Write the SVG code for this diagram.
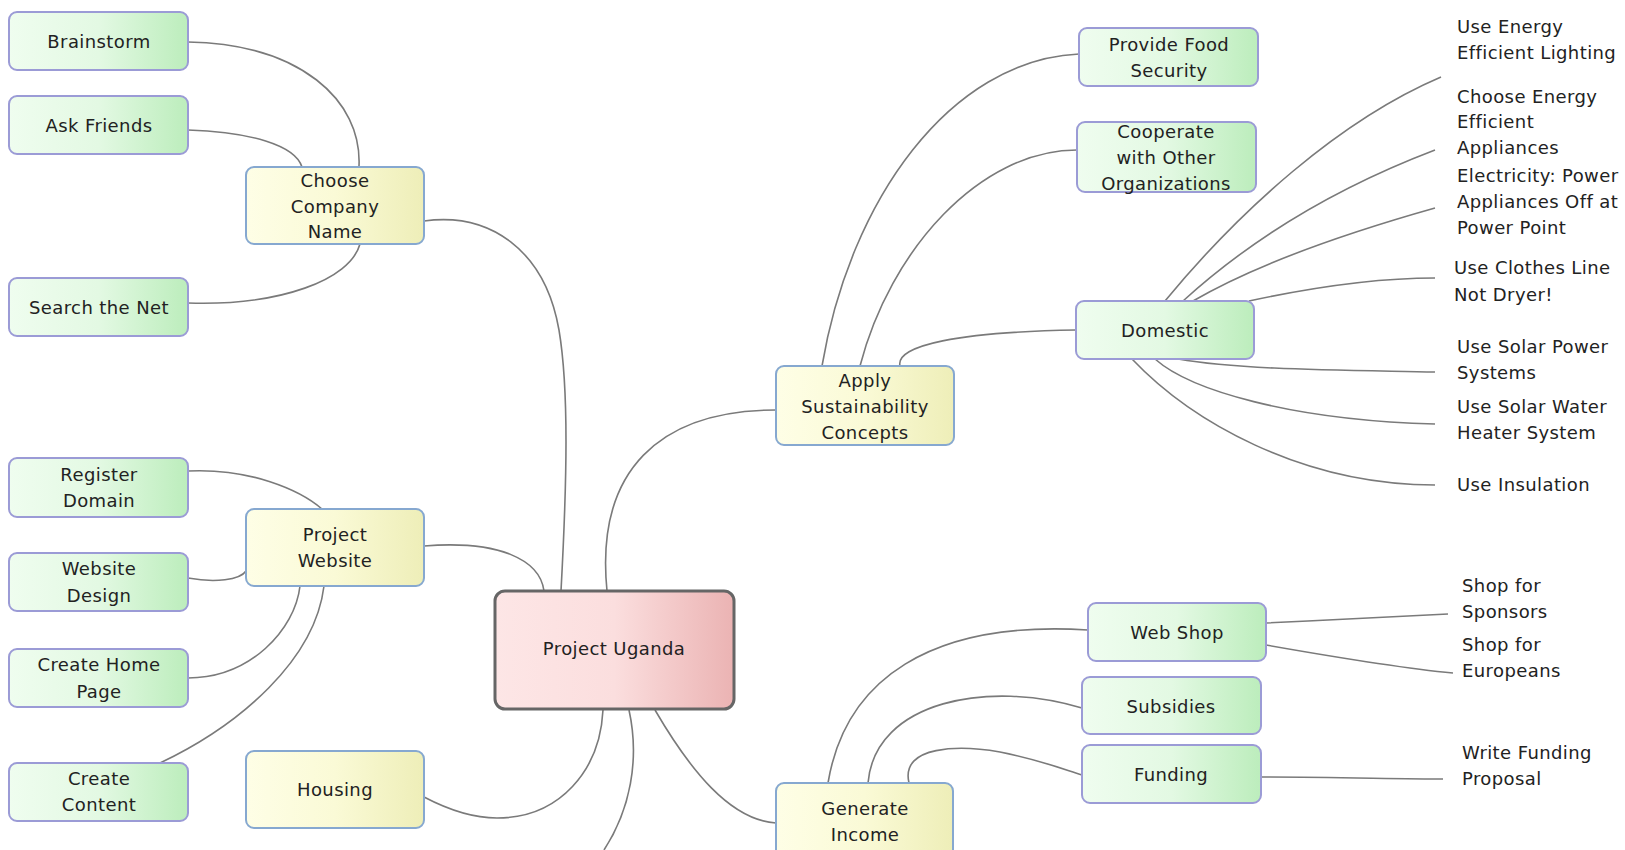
<svg xmlns="http://www.w3.org/2000/svg" width="1625" height="850" viewBox="0 0 1625 850">
<defs>
<linearGradient id="gGreen" x1="0" y1="0" x2="1" y2="0">
<stop offset="0" stop-color="#effdef"/><stop offset="0.5" stop-color="#e3f9e3"/><stop offset="1" stop-color="#bcedbc"/>
</linearGradient>
<linearGradient id="gYellow" x1="0" y1="0" x2="1" y2="0">
<stop offset="0" stop-color="#fefee6"/><stop offset="0.5" stop-color="#fafad6"/><stop offset="1" stop-color="#eeeeb8"/>
</linearGradient>
<linearGradient id="gPink" x1="0" y1="0" x2="1" y2="0">
<stop offset="0" stop-color="#fde6e6"/><stop offset="0.5" stop-color="#fbdede"/><stop offset="1" stop-color="#ebb3b3"/>
</linearGradient>
</defs>
<style>
text{font-family:"DejaVu Sans","Liberation Sans",sans-serif;font-size:18px;letter-spacing:0.4px;fill:#222;}
.c{text-anchor:middle;}
.leaf{fill:url(#gGreen);stroke:#9b9bd6;stroke-width:2;}
.mid{fill:url(#gYellow);stroke:#86a8d0;stroke-width:2;}
.root{fill:url(#gPink);stroke:#666;stroke-width:3;}
#connectors path{fill:none;stroke:#7a7a7a;stroke-width:1.6;}
</style>
<rect width="1625" height="850" fill="#fff"/>
<g id="connectors">
<path d="M188,42 C300,44 362,100 359,166"/>
<path d="M188,130 C250,132 295,145 302,167"/>
<path d="M188,303 C280,306 350,280 360,244"/>
<path d="M424,221 C490,212 545,250 559,330 C569,390 567,480 561,591"/>
<path d="M188,471 C250,468 300,490 322,509"/>
<path d="M188,578 C215,583 240,580 246,571"/>
<path d="M188,678 C250,678 295,630 300,586"/>
<path d="M160,763 C240,725 315,660 324,586"/>
<path d="M424,546 C500,540 540,560 544,591"/>
<path d="M424,797 C445,808 470,818 497,818 C560,818 600,770 603,710"/>
<path d="M629,710 C640,760 630,810 604,850"/>
<path d="M655,710 C690,770 730,820 776,823"/>
<path d="M607,591 C595,470 660,410 776,410"/>
<path d="M822,366 C850,200 950,60 1079,54"/>
<path d="M860,366 C890,250 980,150 1077,150"/>
<path d="M900,366 C895,345 960,332 1076,330"/>
<path d="M1165,301 C1240,210 1340,120 1441,77"/>
<path d="M1183,301 C1250,240 1330,190 1435,150"/>
<path d="M1193,301 C1260,262 1350,232 1435,208"/>
<path d="M1249,301 C1300,290 1370,278 1435,278"/>
<path d="M1178,359 C1240,370 1340,370 1435,372"/>
<path d="M1155,359 C1190,390 1290,420 1435,424"/>
<path d="M1132,359 C1190,420 1300,485 1435,485"/>
<path d="M828,783 C845,680 930,620 1088,630"/>
<path d="M868,783 C875,700 990,680 1082,708"/>
<path d="M909,783 C900,745 960,745 1000,752 C1040,760 1060,768 1082,775"/>
<path d="M1266,623 C1330,620 1400,616 1448,614"/>
<path d="M1266,645 C1340,658 1400,668 1453,673"/>
<path d="M1261,777 C1330,777 1400,779 1443,779"/>
</g>
<g id="brainstorm"><rect class="leaf" x="9" y="12" width="179" height="58" rx="8"/><text class="c" x="99" y="48">Brainstorm</text></g>
<g id="ask-friends"><rect class="leaf" x="9" y="96" width="179" height="58" rx="8"/><text class="c" x="99" y="132">Ask Friends</text></g>
<g id="search-net"><rect class="leaf" x="9" y="278" width="179" height="58" rx="8"/><text class="c" x="99" y="314">Search the Net</text></g>
<g id="choose-company"><rect class="mid" x="246" y="167" width="178" height="77" rx="8"/><text class="c" x="335" y="187">Choose</text><text class="c" x="335" y="213">Company</text><text class="c" x="335" y="238">Name</text></g>
<g id="register-domain"><rect class="leaf" x="9" y="458" width="179" height="59" rx="8"/><text class="c" x="99" y="481">Register</text><text class="c" x="99" y="507">Domain</text></g>
<g id="website-design"><rect class="leaf" x="9" y="553" width="179" height="58" rx="8"/><text class="c" x="99" y="575">Website</text><text class="c" x="99" y="602">Design</text></g>
<g id="create-home"><rect class="leaf" x="9" y="649" width="179" height="58" rx="8"/><text class="c" x="99" y="671">Create Home</text><text class="c" x="99" y="698">Page</text></g>
<g id="create-content"><rect class="leaf" x="9" y="763" width="179" height="58" rx="8"/><text class="c" x="99" y="785">Create</text><text class="c" x="99" y="811">Content</text></g>
<g id="project-website"><rect class="mid" x="246" y="509" width="178" height="77" rx="8"/><text class="c" x="335" y="541">Project</text><text class="c" x="335" y="567">Website</text></g>
<g id="housing"><rect class="mid" x="246" y="751" width="178" height="77" rx="8"/><text class="c" x="335" y="796">Housing</text></g>
<g id="project-uganda"><rect class="root" x="495" y="591" width="239" height="118" rx="10"/><text class="c" x="614" y="655">Project Uganda</text></g>
<g id="apply-sustainability"><rect class="mid" x="776" y="366" width="178" height="79" rx="8"/><text class="c" x="865" y="387">Apply</text><text class="c" x="865" y="413">Sustainability</text><text class="c" x="865" y="439">Concepts</text></g>
<g id="generate-income"><rect class="mid" x="776" y="783" width="177" height="80" rx="8"/><text class="c" x="865" y="815">Generate</text><text class="c" x="865" y="841">Income</text></g>
<g id="provide-food"><rect class="leaf" x="1079" y="28" width="179" height="58" rx="8"/><text class="c" x="1169" y="51">Provide Food</text><text class="c" x="1169" y="77">Security</text></g>
<g id="cooperate"><rect class="leaf" x="1077" y="122" width="179" height="70" rx="8"/><text class="c" x="1166" y="138">Cooperate</text><text class="c" x="1166" y="164">with Other</text><text class="c" x="1166" y="190">Organizations</text></g>
<g id="domestic"><rect class="leaf" x="1076" y="301" width="178" height="58" rx="8"/><text class="c" x="1165" y="337">Domestic</text></g>
<g id="web-shop"><rect class="leaf" x="1088" y="603" width="178" height="58" rx="8"/><text class="c" x="1177" y="639">Web Shop</text></g>
<g id="subsidies"><rect class="leaf" x="1082" y="677" width="179" height="57" rx="8"/><text class="c" x="1171" y="713">Subsidies</text></g>
<g id="funding"><rect class="leaf" x="1082" y="745" width="179" height="58" rx="8"/><text class="c" x="1171" y="781">Funding</text></g>
<g id="lighting"><text x="1457" y="33">Use Energy</text><text x="1457" y="59">Efficient Lighting</text></g>
<g id="appliances"><text x="1457" y="103">Choose Energy</text><text x="1457" y="128">Efficient</text><text x="1457" y="154">Appliances</text></g>
<g id="electricity"><text x="1457" y="182">Electricity: Power</text><text x="1457" y="208">Appliances Off at</text><text x="1457" y="234">Power Point</text></g>
<g id="clothes-line"><text x="1454" y="274">Use Clothes Line</text><text x="1454" y="301">Not Dryer!</text></g>
<g id="solar-power"><text x="1457" y="353">Use Solar Power</text><text x="1457" y="379">Systems</text></g>
<g id="solar-water"><text x="1457" y="413">Use Solar Water</text><text x="1457" y="439">Heater System</text></g>
<g id="insulation"><text x="1457" y="491">Use Insulation</text></g>
<g id="sponsors"><text x="1462" y="592">Shop for</text><text x="1462" y="618">Sponsors</text></g>
<g id="europeans"><text x="1462" y="651">Shop for</text><text x="1462" y="677">Europeans</text></g>
<g id="funding-proposal"><text x="1462" y="759">Write Funding</text><text x="1462" y="785">Proposal</text></g>
</svg>
